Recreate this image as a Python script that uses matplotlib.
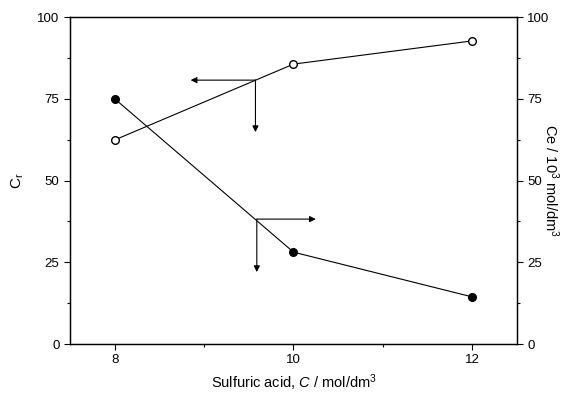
import matplotlib
matplotlib.use("Agg")
import matplotlib.pyplot as plt
from matplotlib.ticker import MultipleLocator

plt.rcParams["font.family"] = ["Liberation Sans", "DejaVu Sans"]
plt.rcParams["mathtext.fontset"] = "custom"
plt.rcParams["mathtext.rm"] = "Liberation Sans"
plt.rcParams["mathtext.it"] = "Liberation Sans:italic"

acid = [8, 10, 12]
cr_values = [75, 28.1, 14.4]
ce_values = [62.4, 85.6, 92.7]

# arrow annotations: (start x, start y, end x, end y)
arrows = [
    (9.575, 80.7, 8.85, 80.7),
    (9.575, 80.7, 9.575, 64.8),
    (9.59, 38.2, 10.25, 38.2),
    (9.59, 38.2, 9.59, 22.0),
]

fig = plt.figure(figsize=(5.75, 3.96), dpi=100)
ax = fig.add_axes([0.1217, 0.1313, 0.7773, 0.8257])
ax2 = ax.twinx()

ax.plot(acid, cr_values, color="black", lw=0.8, marker="o", markersize=5.5,
        markerfacecolor="black", markeredgecolor="black", zorder=3)
ax2.plot(acid, ce_values, color="black", lw=0.8, marker="o", markersize=5.5,
         markerfacecolor="white", markeredgecolor="black", zorder=3)

for x0, y0, x1, y1 in arrows:
    ax.annotate("", xy=(x1, y1), xytext=(x0, y0),
                arrowprops=dict(arrowstyle="-|>", color="black", lw=0.8,
                                mutation_scale=9, shrinkA=0, shrinkB=0))

for a in (ax, ax2):
    a.set_xlim(7.5, 12.5)
    a.set_ylim(0, 100)
    a.yaxis.set_major_locator(MultipleLocator(25))
    a.yaxis.set_minor_locator(MultipleLocator(12.5))
    a.tick_params(which="both", direction="out", labelsize=9.5, width=0.8)
    a.tick_params(which="major", length=4)
    a.tick_params(which="minor", length=2.5)
    for s in a.spines.values():
        s.set_linewidth(0.9)

ax.set_xticks(acid)
ax.xaxis.set_minor_locator(MultipleLocator(1))

ax.set_xlabel("Sulfuric acid, $C$ / mol/dm$^3$", fontsize=10.5)
ax.set_ylabel("C$_\\mathrm{r}$", fontsize=11, labelpad=8)
ax2.set_ylabel("Ce / 10$^3$ mol/dm$^3$", fontsize=10.5, rotation=270, labelpad=8)

fig.savefig("out.png", dpi=100)
